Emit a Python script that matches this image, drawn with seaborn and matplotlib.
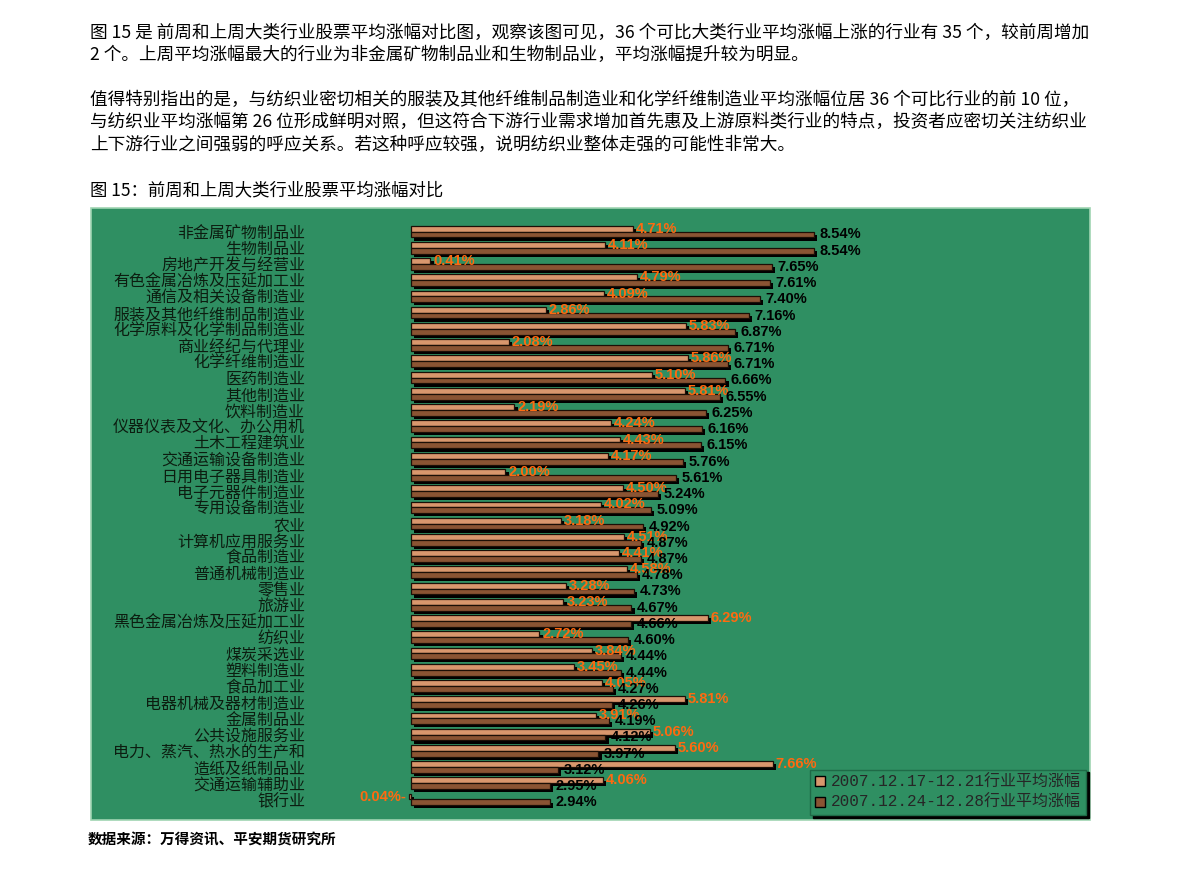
import pandas as pd
import matplotlib
matplotlib.use("Agg")
import matplotlib.pyplot as plt
import matplotlib.patheffects as pe
from matplotlib.patches import Rectangle, Patch
import seaborn as sns

# ---- data ----
industries = [
    "非金属矿物制品业", "生物制品业", "房地产开发与经营业", "有色金属冶炼及压延加工业",
    "通信及相关设备制造业", "服装及其他纤维制品制造业", "化学原料及化学制品制造业",
    "商业经纪与代理业", "化学纤维制造业", "医药制造业", "其他制造业", "饮料制造业",
    "仪器仪表及文化、办公用机", "土木工程建筑业", "交通运输设备制造业", "日用电子器具制造业",
    "电子元器件制造业", "专用设备制造业", "农业", "计算机应用服务业", "食品制造业",
    "普通机械制造业", "零售业", "旅游业", "黑色金属冶炼及压延加工业", "纺织业",
    "煤炭采选业", "塑料制造业", "食品加工业", "电器机械及器材制造业", "金属制品业",
    "公共设施服务业", "电力、蒸汽、热水的生产和", "造纸及纸制品业", "交通运输辅助业", "银行业",
]
prev_week = [
    4.71, 4.11, 0.41, 4.79, 4.09, 2.86, 5.83, 2.08, 5.86, 5.10, 5.81, 2.19,
    4.24, 4.43, 4.17, 2.00, 4.50, 4.02, 3.18, 4.51, 4.41, 4.58, 3.28, 3.23,
    6.29, 2.72, 3.84, 3.45, 4.05, 5.81, 3.91, 5.06, 5.60, 7.66, 4.06, -0.04,
]
last_week = [
    8.54, 8.54, 7.65, 7.61, 7.40, 7.16, 6.87, 6.71, 6.71, 6.66, 6.55, 6.25,
    6.16, 6.15, 5.76, 5.61, 5.24, 5.09, 4.92, 4.87, 4.87, 4.78, 4.73, 4.67,
    4.66, 4.60, 4.44, 4.44, 4.27, 4.26, 4.19, 4.12, 3.97, 3.12, 2.95, 2.94,
]
series_names = ["2007.12.17-12.21行业平均涨幅", "2007.12.24-12.28行业平均涨幅"]

intro_lines = [
    "图 15 是 前周和上周大类行业股票平均涨幅对比图，观察该图可见，36 个可比大类行业平均涨幅上涨的行业有 35 个，较前周增加",
    "2 个。上周平均涨幅最大的行业为非金属矿物制品业和生物制品业，平均涨幅提升较为明显。",
    "值得特别指出的是，与纺织业密切相关的服装及其他纤维制品制造业和化学纤维制造业平均涨幅位居 36 个可比行业的前 10 位，",
    "与纺织业平均涨幅第 26 位形成鲜明对照，但这符合下游行业需求增加首先惠及上游原料类行业的特点，投资者应密切关注纺织业",
    "上下游行业之间强弱的呼应关系。若这种呼应较强，说明纺织业整体走强的可能性非常大。",
]
chart_title = "图 15：前周和上周大类行业股票平均涨幅对比"
source_note = "数据来源：万得资讯、平安期货研究所"

df = pd.DataFrame({
    "行业": industries * 2,
    "涨幅": prev_week + last_week,
    "系列": [series_names[0]] * len(industries) + [series_names[1]] * len(industries),
})

GREEN = "#2f8f62"
LIGHT = "#d9976d"
DARK = "#8a5433"
ORANGE = "#ff6a10"

sns.set_style("white")
plt.rcParams["font.family"] = ["Noto Sans CJK SC", "DejaVu Sans"]

W, H = 1191, 869
fig = plt.figure(figsize=(W / 100, H / 100), dpi=100)
fig.patch.set_facecolor("white")

# green chart panel
fig.patches.append(Rectangle((91 / W, 1 - 820 / H), (1090 - 91) / W, (820 - 208) / H,
                             transform=fig.transFigure, facecolor=GREEN,
                             edgecolor="#9fd4b2", lw=1.2, zorder=0))

ax = fig.add_axes([396.8 / W, 1 - 807.6 / H, (1085 - 396.8) / W, (807.6 - 223.4) / H])
ax.set_zorder(2)
ax.patch.set_alpha(0)

sns.barplot(data=df, x="涨幅", y="行业", hue="系列", orient="h",
            palette=[LIGHT, DARK], saturation=1, width=0.72, gap=0,
            errorbar=None, edgecolor="#1c0f06", linewidth=0.9, legend=False, ax=ax)

shadow = [pe.SimplePatchShadow(offset=(2.3, -2.3), shadow_rgbFace="black", alpha=1.0), pe.Normal()]
for p in ax.patches:
    p.set_path_effects(shadow)

lab_font = dict(family=["Liberation Sans", "DejaVu Sans"], fontsize=10.5, fontweight="bold")
prev_labels = [f"{v:.2f}%" if v >= 0 else f"{abs(v):.2f}%-" for v in prev_week]
last_labels = [f"{v:.2f}%" for v in last_week]
ax.bar_label(ax.containers[0], labels=prev_labels, padding=2, color=ORANGE, **lab_font)
ax.bar_label(ax.containers[1], labels=last_labels, padding=4, color="black", **lab_font)

ax.set_xlim(-0.3, (1085 - 411) / 47.2)
ax.set_ylim(len(industries) - 0.5, -0.5)
ax.set_xlabel("")
ax.set_ylabel("")
ax.set_xticks([])
ax.tick_params(axis="y", length=0, pad=66)
for t in ax.get_yticklabels():
    t.set_fontsize(11.5)
    t.set_color("#0c1d10")
sns.despine(ax=ax, left=True, bottom=True)

leg = fig.legend(handles=[Patch(facecolor=LIGHT, edgecolor="black"),
                          Patch(facecolor=DARK, edgecolor="black")],
                 labels=series_names, loc="lower right",
                 bbox_to_anchor=(1086 / W, 1 - 815 / H), bbox_transform=fig.transFigure,
                 frameon=True, fancybox=False, facecolor=GREEN, edgecolor="#1f6a47",
                 framealpha=1, shadow={"color": "black", "alpha": 1},
                 prop={"family": ["Liberation Mono", "Noto Sans CJK SC"], "size": 11.5},
                 handlelength=0.6, handleheight=0.6, handletextpad=0.4,
                 borderpad=0.3, labelspacing=0.35, borderaxespad=0)
leg.set_zorder(3)

# surrounding report text
for y, line in zip([33, 55, 100, 122, 145], intro_lines):
    fig.text(90 / W, 1 - y / H, line, fontsize=12.7, va="center", ha="left", color="black")
fig.text(90 / W, 1 - 190 / H, chart_title, fontsize=12.5, va="center", ha="left", color="black")
fig.text(88 / W, 1 - 840 / H, source_note, fontsize=10.5, fontweight="bold",
         va="center", ha="left", color="black")

plt.savefig("out.png", dpi=100)
plt.close()
